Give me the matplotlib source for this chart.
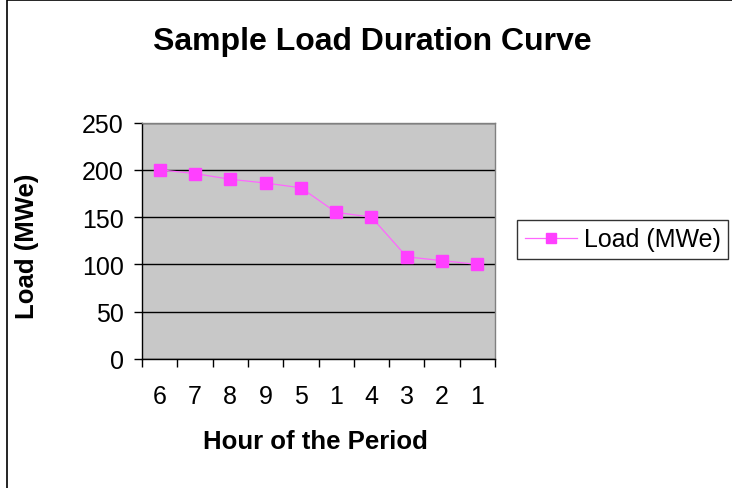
import numpy as np
import matplotlib.pyplot as plt
from matplotlib.patches import Rectangle

plt.rcParams['font.family'] = ['Liberation Sans', 'DejaVu Sans']

# hours in load-duration order and their loads
hours = ['6', '7', '8', '9', '5', '1', '4', '3', '2', '1']
load_mwe = [200, 196, 190, 186, 181, 155, 150, 108, 104, 100]
y_ticks = [0, 50, 100, 150, 200, 250]

W, H = 732, 489
fig = plt.figure(figsize=(W / 100, H / 100), dpi=100)

# chart area border (cut off on the right and bottom like the original)
fig.patches.append(Rectangle((7.5 / W, -0.1), 1.2, 1.1 - 1.0 / H, transform=fig.transFigure,
                             fill=False, edgecolor='black', linewidth=1.2))

ax = fig.add_axes([142 / W, 1 - 360 / H, (495 - 142) / W, (360 - 123.5) / H])
ax.set_facecolor('#C8C8C8')

x = np.arange(len(hours))
ax.plot(x, load_mwe, color='#FF66FF', linewidth=0.9, marker='s', markersize=8.5,
        markerfacecolor='#FF40FF', markeredgecolor='#FF40FF', label='Load (MWe)', zorder=3)

ax.set_xlim(-0.5, len(hours) - 0.5)
ax.set_ylim(0, 250)
ax.set_yticks(y_ticks)
ax.yaxis.grid(True, color='black', linewidth=1.0)
ax.set_axisbelow(True)

ax.set_xticks(x)
ax.set_xticklabels(hours)
ax.set_xticks(np.arange(-0.5, len(hours)), minor=True)
ax.tick_params(axis='x', which='major', length=0, pad=18, labelsize=18)
ax.tick_params(axis='x', which='minor', length=6, width=1, direction='out')
ax.tick_params(axis='y', length=6, width=1, direction='out', pad=7, labelsize=18)

for s in ['top', 'right']:
    ax.spines[s].set_color('#808080')
    ax.spines[s].set_linewidth(1.0)
for s in ['left', 'bottom']:
    ax.spines[s].set_color('black')
    ax.spines[s].set_linewidth(1.0)

fig.text(372 / W, 1 - 42 / H, 'Sample Load Duration Curve', ha='center', va='center',
         fontsize=23, fontweight='bold')
fig.text(315 / W, 1 - 442 / H, 'Hour of the Period', ha='center', va='center',
         fontsize=18.5, fontweight='bold')
fig.text(27 / W, 1 - 246 / H, 'Load (MWe)', ha='center', va='center', rotation=90,
         fontsize=18.5, fontweight='bold')

leg = fig.legend(loc='upper left', bbox_to_anchor=(517 / W, 1 - 221 / H), borderaxespad=0,
                 fontsize=18, frameon=True, fancybox=False, handlelength=2.1,
                 handletextpad=0.28, borderpad=0.3, markerscale=0.85)
leg.get_frame().set_edgecolor('black')
leg.get_frame().set_linewidth(1.0)

fig.savefig('out.png', dpi=100)
